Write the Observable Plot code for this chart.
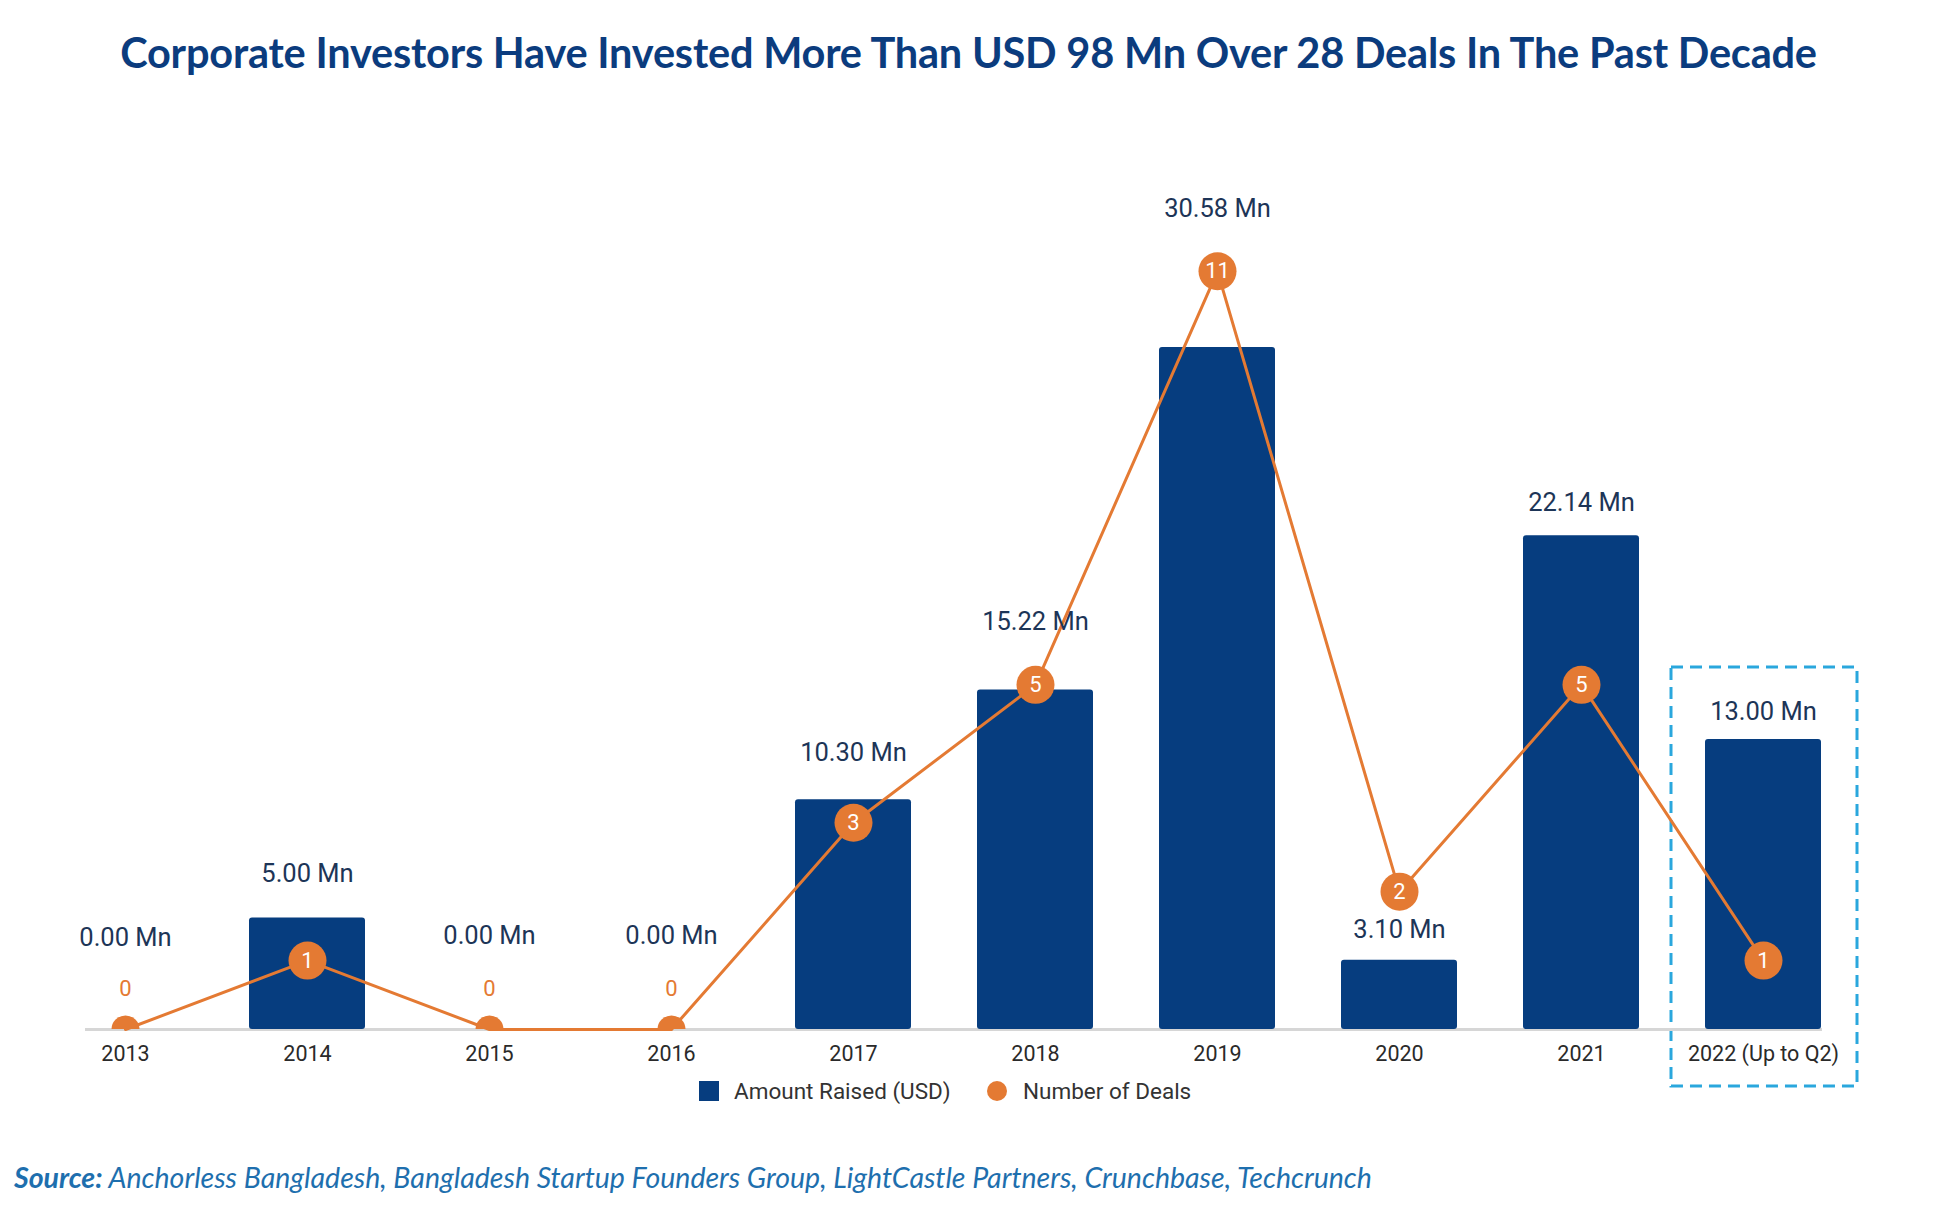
<!DOCTYPE html>
<html><head><meta charset="utf-8">
<script src="https://cdn.jsdelivr.net/npm/d3@7"></script>
<script src="https://cdn.jsdelivr.net/npm/@observablehq/plot@0.6"></script>
<style>
html,body{margin:0;padding:0;background:#fff}
body{width:1937px;height:1209px;position:relative;overflow:hidden;font-family:Roboto,"Liberation Sans",sans-serif}
#title{position:absolute;left:0;top:27px;width:1937px;text-align:center;font-family:Lato,sans-serif;font-weight:700;font-size:41.5px;line-height:50px;color:#0b3c7e;white-space:nowrap;letter-spacing:-0.2px}
#chart{position:absolute;left:0;top:140px}
.leg{position:absolute;top:1078px;height:26px;display:flex;align-items:center;font-size:22.5px;color:#333}
.sw{width:20px;height:20px;background:#063d7f;margin-right:15px}
.ci{width:20px;height:20px;border-radius:50%;background:#e47a33;margin-right:16px}
#source{position:absolute;left:14px;top:1160px;font-family:Lato,sans-serif;font-style:italic;font-size:28.5px;line-height:34px;color:#1e6fae;white-space:nowrap}
</style></head>
<body>
<div id="title">Corporate Investors Have Invested More Than USD 98 Mn Over 28 Deals In The Past Decade</div>
<div id="chart"></div>
<div class="leg" style="left:699px"><div class="sw"></div>Amount Raised (USD)</div>
<div class="leg" style="left:987px"><div class="ci"></div>Number of Deals</div>
<div id="source"><b>Source:</b> Anchorless Bangladesh, Bangladesh Startup Founders Group, LightCastle Partners, Crunchbase, Techcrunch</div>
<script>
const years = ["2013","2014","2015","2016","2017","2018","2019","2020","2021","2022 (Up to Q2)"];
const amounts = [0, 5.00, 0, 0, 10.30, 15.22, 30.58, 3.10, 22.14, 13.00];
const deals = [0, 1, 0, 0, 3, 5, 11, 2, 5, 1];
// pixel lift of each amount label above its bar top (annotation placement)
const labelLift = [92, 44, 94, 94, 47, 68, 139, 31, 33, 28];
const highlighted = ["2022 (Up to Q2)"];

const yMax = 36;      // amount axis (USD Mn)
const dealMax = 11.65; // deals axis
const navy = "#063d7f", orange = "#e47a33";

const data = years.map((y, i) => ({year: y, amount: amounts[i], deals: deals[i], yd: deals[i] * yMax / dealMax}));

const amountLabels = data.map((d, i) => Plot.text([d], {
  x: "year", y: "amount", text: d => d.amount.toFixed(2) + " Mn",
  dy: -labelLift[i], fontSize: 25.5, fill: "#1d3557"
}));

const chart = Plot.plot({
  width: 1937, height: 960,
  marginLeft: 0, marginRight: 50, marginTop: 86, marginBottom: 71,
  style: {fontFamily: "Roboto, 'Liberation Sans', sans-serif", fontSize: "21.5px", color: "#2a2a2a", background: "transparent"},
  x: {domain: years, padding: 0.364, tickSize: 0, tickPadding: 16, label: null},
  y: {domain: [0, yMax], axis: null},
  marks: [
    Plot.barY(data.filter(d => highlighted.includes(d.year)), {
      x: "year", y1: 0, y2: "amount", fill: "none", stroke: "#2aa7dd", strokeWidth: 3,
      strokeDasharray: "12,7", insetTop: -72, insetBottom: -57, insetLeft: -34, insetRight: -36
    }),
    Plot.ruleY([0], {stroke: "#d6d6d6", strokeWidth: 3, insetLeft: 85, insetRight: 65}),
    Plot.barY(data, {x: "year", y: "amount", fill: navy, rx: 3}),
    Plot.line(data, {x: "year", y: "yd", stroke: orange, strokeWidth: 3}),
    Plot.dot(data.filter(d => d.deals === 0), {x: "year", y: "yd", r: 14, fill: orange, clip: true}),
    Plot.dot(data.filter(d => d.deals > 0), {x: "year", y: "yd", r: 19, fill: orange}),
    Plot.text(data.filter(d => d.deals > 0), {x: "year", y: "yd", text: d => String(d.deals), fill: "white", fontSize: 22}),
    Plot.text(data.filter(d => d.deals === 0), {x: "year", y: "yd", text: d => String(d.deals), fill: orange, fontSize: 22, dy: -41}),
    ...amountLabels
  ]
});
document.getElementById("chart").appendChild(chart);
</script>
</body></html>
